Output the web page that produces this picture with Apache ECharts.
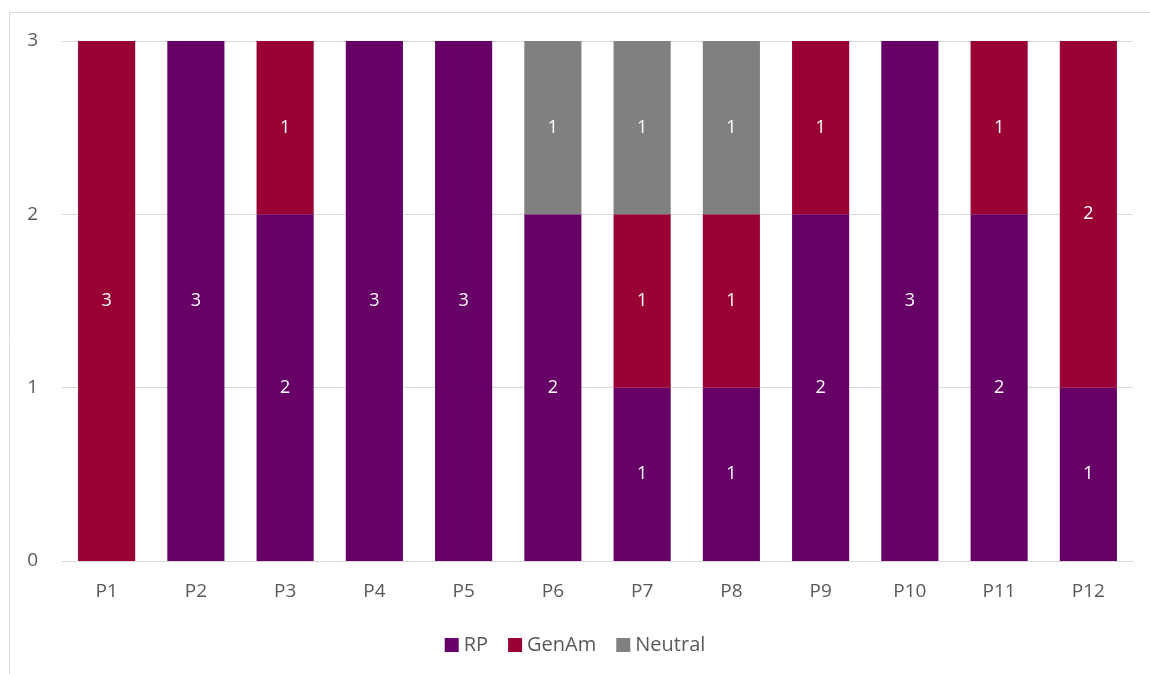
<!DOCTYPE html>
<html>
<head>
<meta charset="utf-8">
<script src="https://cdn.jsdelivr.net/npm/echarts@6/dist/echarts.min.js"></script>
<style>
  html, body { margin: 0; padding: 0; background: #fff; }
  #chart { width: 1150px; height: 674px; }
</style>
</head>
<body>
<div id="chart"></div>
<script>
// Participants and their responses per accent category
const categories = ['P1', 'P2', 'P3', 'P4', 'P5', 'P6', 'P7', 'P8', 'P9', 'P10', 'P11', 'P12'];
const rpValues      = [0, 3, 2, 3, 3, 2, 1, 1, 2, 3, 2, 1];
const genAmValues   = [3, 0, 1, 0, 0, 0, 1, 1, 1, 0, 1, 2];
const neutralValues = [0, 0, 0, 0, 0, 1, 1, 1, 0, 0, 0, 0];
const yTicks = [0, 1, 2, 3];

const textColor = '#595959';
const fontFamily = '"Open Sans", "Noto Sans", sans-serif';

function makeSeries(name, data, color) {
  return {
    name: name,
    type: 'bar',
    stack: 'total',
    data: data,
    barWidth: '64%',
    itemStyle: { color: color },
    label: {
      show: true,
      position: 'inside',
      color: '#ffffff',
      fontSize: 18,
      fontFamily: fontFamily,
      formatter: p => (p.value ? String(p.value) : '')
    }
  };
}

const chart = echarts.init(document.getElementById('chart'), null, { renderer: 'canvas' });
chart.setOption({
  animation: false,
  backgroundColor: '#ffffff',
  graphic: [{
    type: 'rect',
    shape: { x: 9.5, y: 12.5, width: 1160, height: 680 },
    style: { fill: 'none', stroke: '#d9d9d9', lineWidth: 1 },
    silent: true
  }],
  grid: { left: 62, right: 17, top: 41, bottom: 113, containLabel: false },
  legend: {
    bottom: 14,
    left: 'center',
    itemWidth: 14,
    itemHeight: 14,
    itemGap: 20,
    icon: 'rect',
    textStyle: { color: textColor, fontSize: 20, fontFamily: fontFamily }
  },
  xAxis: {
    type: 'category',
    data: categories,
    axisLine: { show: true, lineStyle: { color: '#d9d9d9' } },
    axisTick: { show: false },
    axisLabel: { color: textColor, fontSize: 19, fontFamily: fontFamily, margin: 21 }
  },
  yAxis: {
    type: 'value',
    min: yTicks[0],
    max: yTicks[yTicks.length - 1],
    interval: 1,
    axisLine: { show: false },
    axisTick: { show: false },
    splitLine: { lineStyle: { color: '#d9d9d9', width: 1 } },
    axisLabel: { color: textColor, fontSize: 19, fontFamily: fontFamily, margin: 24 }
  },
  series: [
    makeSeries('RP', rpValues, '#660066'),
    makeSeries('GenAm', genAmValues, '#990033'),
    makeSeries('Neutral', neutralValues, '#808080')
  ]
});
</script>
</body>
</html>
